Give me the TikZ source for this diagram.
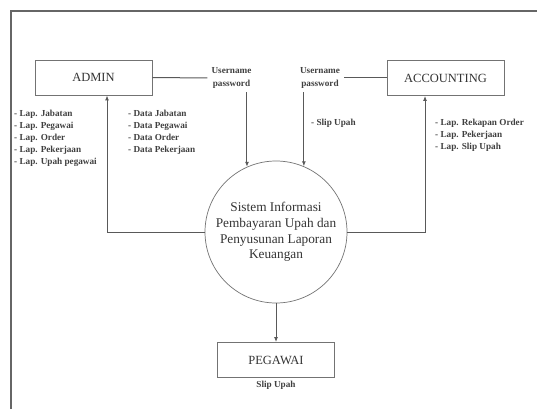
\documentclass[tikz,border=0pt]{standalone}
\usepackage{fontspec}
\setmainfont{Liberation Serif}
\usetikzlibrary{arrows.meta}
\tikzset{
  ent/.style={draw=black!55, line width=0.8pt, rectangle, minimum width=117pt, minimum height=35pt, font=\fontsize{12.5}{14}\selectfont, text=black!80},
  proc/.style={draw=black!55, line width=0.7pt, circle, minimum size=142pt, inner sep=0pt, align=center, font=\fontsize{13.3}{15.7}\selectfont, text=black!80},
  lbl/.style={font=\bfseries\fontsize{9.2}{12.2}\selectfont, text=black!75, align=left, inner sep=1pt},
  flow/.style={draw=black!65, line width=1pt},
  arr/.style={flow, -{Latex[length=5pt,width=4pt]}}
}
\begin{document}
\begin{tikzpicture}[x=1pt,y=-1pt]
\useasboundingbox (0,0) rectangle (537,409);
\draw[black!60, line width=1.6pt] (11,409) -- (11,11) -- (537,11);

\node[ent] (admin) at (93.5,77.5) {ADMIN};
\node[ent] (acc) at (445.5,78) {ACCOUNTING};
\node[ent] (peg) at (276,360) {PEGAWAI};
\node[proc] (sys) at (276,232) {Sistem Informasi\\Pembayaran Upah dan\\Penyusunan Laporan\\Keuangan};

\node[lbl, align=center, inner sep=4pt] (up1) at (231.5,78) {Username\\password};
\node[lbl, align=center, inner sep=4pt] (up2) at (320,78) {Username\\password};

\node[lbl, anchor=north west] (ladm) at (13,108.5) {- Lap. Jabatan\\- Lap. Pegawai\\- Lap. Order\\- Lap. Pekerjaan\\- Lap. Upah pegawai};
\node[lbl, anchor=north west] (dadm) at (127,108.5) {- Data Jabatan\\- Data Pegawai\\- Data Order\\- Data Pekerjaan};
\node[lbl, anchor=north west] (sacc) at (310,117.5) {- Slip Upah};
\node[lbl, anchor=north west] (lacc) at (434,117.5) {- Lap. Rekapan Order\\- Lap. Pekerjaan\\- Lap. Slip Upah};
\node[lbl, anchor=north] (speg) at (276,379.5) {Slip Upah};

\draw[flow] (admin.east) -- (up1.west);
\draw[arr] (up1.south -| sys.114) -- (sys.114);
\draw[flow] (acc.west) -- (up2.east);
\draw[arr] (up2.south -| sys.67) -- (sys.67);
\draw[arr] (sys.west) -| ([xshift=13.5pt]admin.south);
\draw[arr] (sys.east) -| ([xshift=-20.5pt]acc.south);
\draw[arr] (sys.south) -- (peg.north);
\end{tikzpicture}
\end{document}
